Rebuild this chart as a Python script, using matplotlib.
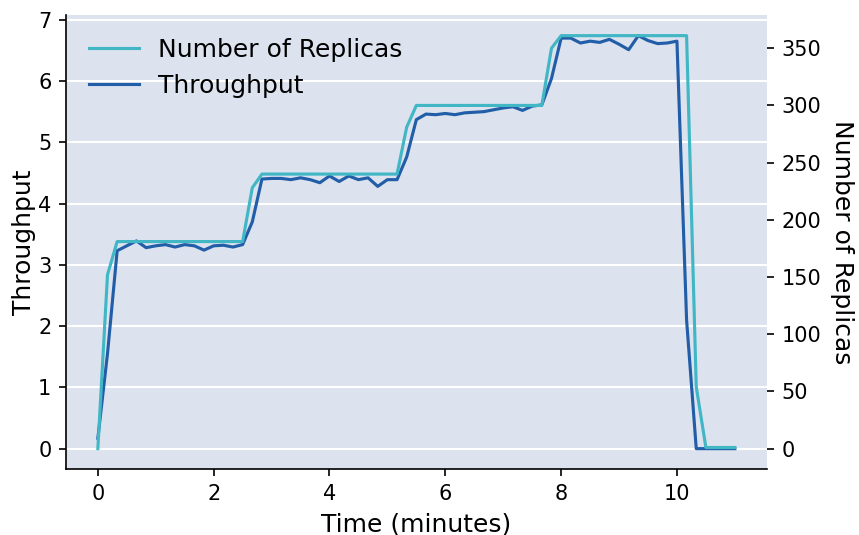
import matplotlib
matplotlib.use("Agg")
import matplotlib.pyplot as plt

# Sample times in seconds (every 10 s)
time_seconds = [0, 10, 20, 30, 40, 50, 60, 70, 80, 90,
                100, 110, 120, 130, 140, 150, 160, 170, 180, 190,
                200, 210, 220, 230, 240, 250, 260, 270, 280, 290,
                300, 310, 320, 330, 340, 350, 360, 370, 380, 390,
                400, 410, 420, 430, 440, 450, 460, 470, 480, 490,
                500, 510, 520, 530, 540, 550, 560, 570, 580, 590,
                600, 610, 620, 630, 640, 650, 660]

throughput = [0.17, 1.55, 3.23, 3.31, 3.39, 3.28, 3.31, 3.33, 3.29, 3.33,
              3.31, 3.24, 3.31, 3.32, 3.29, 3.33, 3.70, 4.40, 4.41, 4.41,
              4.39, 4.42, 4.39, 4.34, 4.45, 4.36, 4.45, 4.39, 4.42, 4.28,
              4.39, 4.39, 4.76, 5.37, 5.46, 5.45, 5.47, 5.45, 5.48, 5.49,
              5.50, 5.53, 5.56, 5.58, 5.52, 5.59, 5.61, 6.04, 6.70, 6.70,
              6.62, 6.65, 6.63, 6.68, 6.60, 6.51, 6.74, 6.66, 6.61, 6.62,
              6.65, 2.10, 0.0, 0.0, 0.0, 0.0, 0.0]

replicas = [0, 152, 181, 181, 181, 181, 181, 181, 181, 181,
            181, 181, 181, 181, 181, 181, 228, 240, 240, 240,
            240, 240, 240, 240, 240, 240, 240, 240, 240, 240,
            240, 240, 281, 300, 300, 300, 300, 300, 300, 300,
            300, 300, 300, 300, 300, 300, 300, 350, 361, 361,
            361, 361, 361, 361, 361, 361, 361, 361, 361, 361,
            361, 361, 54, 1, 1, 1, 1]

time_minutes = [s / 60 for s in time_seconds]

color_replicas = "#41b6c4"
color_throughput = "#225ea8"
bg = "#dce3ef"

fig = plt.figure(figsize=(859 / 150, 535 / 150), dpi=150)
ax1 = fig.add_axes([66 / 859, 1 - 469.3 / 535, (766.7 - 66) / 859, (469.3 - 15) / 535])
ax1.set_facecolor(bg)
ax1.grid(axis="y", color="white", linewidth=1.0)
ax1.set_axisbelow(True)

l_thr, = ax1.plot(time_minutes, throughput, color=color_throughput, lw=1.5,
                  label="Throughput")
ax2 = ax1.twinx()
l_rep, = ax2.plot(time_minutes, replicas, color=color_replicas, lw=1.5,
                  label="Number of Replicas")

for ax in (ax1, ax2):
    ax.spines["top"].set_visible(False)
    ax.spines["right"].set_visible(False)
ax2.spines["left"].set_visible(False)
ax2.spines["bottom"].set_visible(False)

ax1.set_xticks([0, 2, 4, 6, 8, 10])
ax1.set_yticks([0, 1, 2, 3, 4, 5, 6, 7])
ax2.set_yticks([0, 50, 100, 150, 200, 250, 300, 350])
ax1.tick_params(labelsize=10)
ax2.tick_params(labelsize=10)

ax1.set_xlabel("Time (minutes)", fontsize=12)
ax1.set_ylabel("Throughput", fontsize=12, labelpad=1)
ax2.set_ylabel("Number of Replicas", fontsize=12, rotation=270, labelpad=16)

ax2.legend([l_rep, l_thr], ["Number of Replicas", "Throughput"],
           loc="upper left", frameon=False, fontsize=12)

fig.savefig("out.png", dpi=150)
